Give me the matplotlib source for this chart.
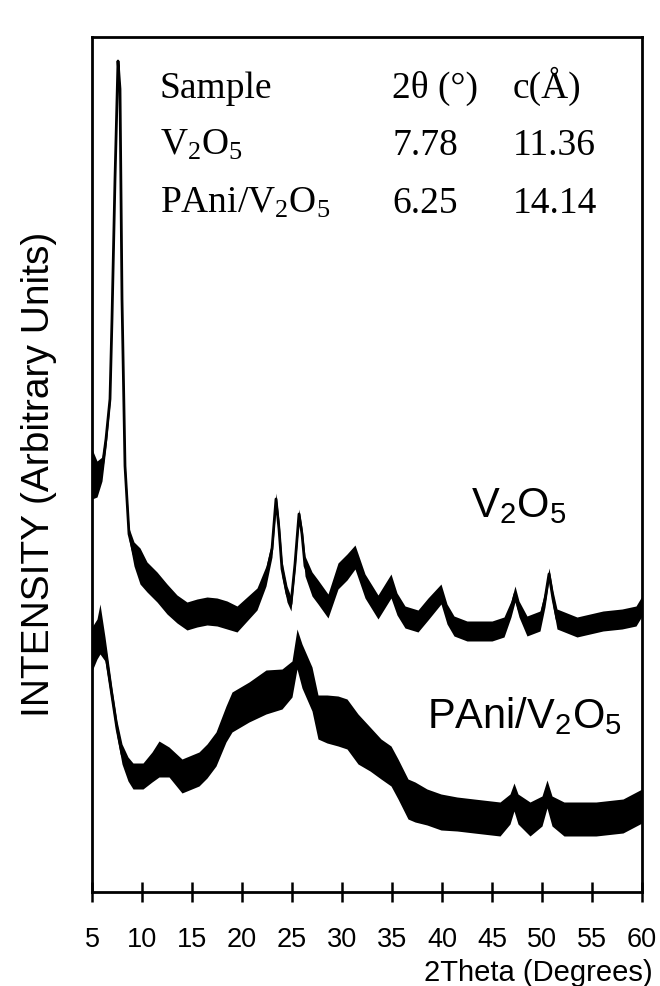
import numpy as np
import matplotlib
matplotlib.use('Agg')
import matplotlib.pyplot as plt

# V2O5 xerogel pattern: 2theta, intensity (a.u.), half width of the noise band
tt_v = [5.0, 5.5, 6.0, 6.4, 6.8, 7.0, 7.3, 7.6, 7.8, 8.0, 8.3, 8.7, 9.2, 9.8,
        10.5, 11.5, 12.5, 13.5, 14.5, 15.5, 16.5, 17.5, 18.5, 19.5, 20.5, 21.5,
        22.4, 23.0, 23.4, 23.7, 24.0, 24.5, 24.9, 25.3, 25.7, 26.0, 26.3, 27.0,
        27.6, 28.6, 29.6, 30.5, 31.3, 32.3, 33.6, 34.9, 35.5, 36.3, 37.6, 38.6,
        39.9, 40.5, 41.2, 42.5, 43.5, 45.0, 46.2, 46.9, 47.3, 47.7, 48.5, 49.8,
        50.3, 50.7, 51.1, 51.5, 53.5, 56.1, 58.0, 59.4, 60.0]
int_v = [418, 413, 423, 453, 493, 573, 713, 831, 803, 593, 426, 358, 338, 326,
         315, 305, 293, 283, 276, 279, 281, 280, 277, 273, 283, 293,
         316, 343, 393, 363, 323, 298, 288, 328, 378, 358, 326, 308,
         300, 286, 316, 325, 335, 306, 285, 306, 288, 275, 271, 283,
         298, 278, 266, 261, 261, 261, 265, 283, 298, 283, 266, 271,
         293, 318, 293, 273, 265, 271, 273, 276, 286]
noise_v = [25, 18, 12, 8, 5, 3, 2, 1, 1, 3, 4, 6, 12, 18,
           15, 15, 15, 14, 14, 14, 14, 14, 14, 13, 12, 11,
           10, 8, 6, 8, 8, 8, 7, 6, 5, 6, 10, 12,
           12, 12, 13, 13, 12, 12, 12, 12, 11, 11, 11, 11,
           10, 10, 10, 10, 10, 10, 10, 8, 8, 8, 10, 10,
           8, 6, 8, 10, 10, 10, 10, 10, 10]

# PAni/V2O5 nanocomposite pattern
tt_p = [5.0, 5.5, 5.8, 6.3, 7.0, 7.5, 8.0, 8.6, 9.1, 10.1, 11.0, 11.7, 12.7,
        14.0, 15.7, 16.5, 17.4, 18.4, 19.0, 20.7, 22.4, 24.0, 25.0, 25.5, 26.0,
        27.0, 27.6, 28.5, 29.6, 30.5, 31.6, 32.8, 33.9, 34.9, 35.6, 36.6, 37.3,
        38.5, 39.9, 41.5, 43.2, 45.8, 46.8, 47.2, 47.6, 48.8, 50.0, 50.5, 51.0,
        52.2, 55.4, 58.1, 60.0]
int_p = [243, 253, 263, 243, 196, 163, 138, 123, 116, 116, 125, 133, 130,
         116, 123, 131, 143, 168, 180, 190, 200, 203, 213, 243, 226,
         203, 175, 173, 171, 168, 153, 143, 133, 126, 113, 93, 90,
         85, 80, 78, 76, 73, 83, 95, 83, 73, 81, 98, 81,
         73, 73, 76, 86]
noise_p = [22, 20, 25, 12, 8, 8, 10, 12, 13, 13, 15, 18, 15,
           17, 17, 17, 17, 18, 20, 20, 22, 20, 18, 20, 22,
           22, 22, 24, 25, 25, 25, 22, 20, 20, 20, 20, 20,
           18, 18, 17, 17, 17, 15, 14, 15, 17, 15, 14, 15,
           17, 17, 17, 17]

samples = ['Sample', 'V$_2$O$_5$', 'PAni/V$_2$O$_5$']
two_theta_col = ['2\u03b8 (\u00b0)', '7.78', '6.25']
c_col = ['c(\u00c5)', '11.36', '14.14']

plt.rcParams['font.family'] = ['Liberation Sans', 'DejaVu Sans']
plt.rcParams['mathtext.default'] = 'regular'

fig = plt.figure(figsize=(6.6, 9.87), dpi=100)
ax = fig.add_axes([92 / 660, 94 / 987, 550 / 660, 855 / 987])

for tt, yy, nn in [(tt_v, int_v, noise_v), (tt_p, int_p, noise_p)]:
    tt = np.array(tt)
    yy = np.array(yy)
    nn = np.array(nn)
    ax.fill_between(tt, yy - nn, yy + nn, color='black', lw=0)
    ax.plot(tt, yy, color='black', lw=2)

ax.set_xlim(5, 60)
ax.set_ylim(0, 855)
ax.set_xticks(np.arange(5, 61, 5))
ax.set_yticks([])
ax.tick_params(axis='x', direction='inout', length=15, width=1.8,
               labelsize=19.5, pad=17)
for s in ax.spines.values():
    s.set_linewidth(2)

ax.set_xlabel('2Theta (Degrees)', fontsize=21, loc='right')
ax.xaxis.set_label_coords(1.02, -0.077)
ax.set_ylabel('INTENSITY (Arbitrary Units)', fontsize=28)
ax.yaxis.set_label_coords(-0.063, 0.49)

ax.text(42.9, 376, 'V$_2$O$_5$', fontsize=30, va='baseline')
ax.text(38.5, 165, 'PAni/V$_2$O$_5$', fontsize=30, va='baseline')

rows_y = [98, 155, 213]
for i in range(3):
    y = 1 - rows_y[i] / 987
    fig.text(160 / 660, y, samples[i], fontsize=27, family='Liberation Serif', va='baseline')
    fig.text(392 / 660, y, two_theta_col[i], fontsize=27, family='Liberation Serif', va='baseline')
    fig.text(513 / 660, y, c_col[i], fontsize=27, family='Liberation Serif', va='baseline')

fig.savefig('out.png', dpi=100)
